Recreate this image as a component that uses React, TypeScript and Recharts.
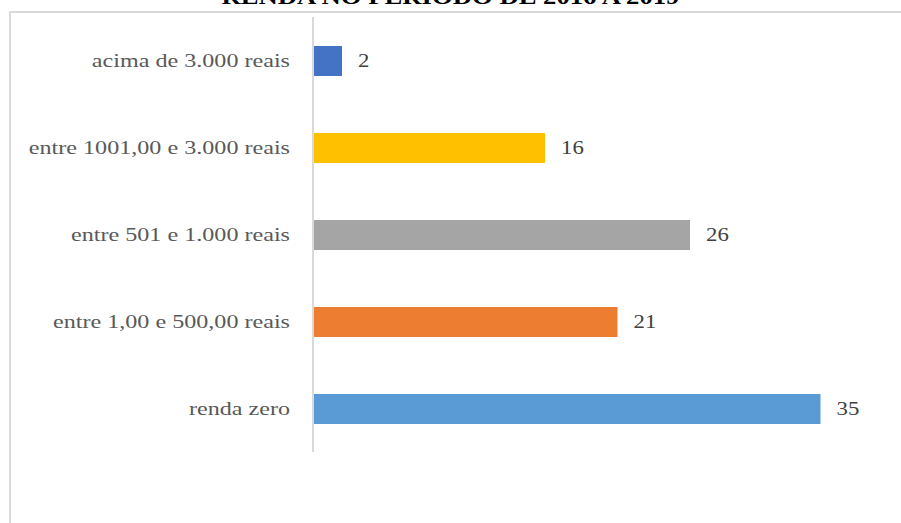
import { BarChart, Bar, XAxis, YAxis, Cell, LabelList } from 'recharts';

const categories = [
  'acima de 3.000 reais',
  'entre 1001,00 e 3.000 reais',
  'entre 501 e 1.000 reais',
  'entre 1,00 e 500,00 reais',
  'renda zero',
];
const values = [2, 16, 26, 21, 35];
const colors = ['#4472C4', '#FFC000', '#A5A5A5', '#ED7D31', '#5B9BD5'];
const title = 'RENDA NO PERÍODO DE 2016 A 2019';

const FONT = '"Liberation Serif", "Times New Roman", serif';
// the source picture is stretched sideways, so the text is too
const STRETCH = 1.27;

const data = categories.map((name, i) => ({ name, value: values[i], color: colors[i] }));

function CategoryTick(props: any) {
  const { x, y, payload } = props;
  return (
    <g transform={`translate(${x - 15},${y}) scale(${STRETCH},1)`}>
      <text
        x={0}
        y={0}
        textAnchor="end"
        dominantBaseline="central"
        fontSize={19}
        fontFamily={FONT}
        fill="#595959"
      >
        {payload.value}
      </text>
    </g>
  );
}

function ValueLabel(props: any) {
  const { x, y, width, height, value } = props;
  return (
    <g transform={`translate(${x + width + 16},${y + height / 2}) scale(1.2,1)`}>
      <text x={0} y={0} dominantBaseline="central" fontSize={19} fontFamily={FONT} fill="#404040">
        {value}
      </text>
    </g>
  );
}

export default function App() {
  return (
    <div
      style={{
        position: 'fixed',
        left: 0,
        top: 0,
        width: 901,
        height: 523,
        overflow: 'hidden',
        background: '#fff',
      }}
    >
      <div
        style={{
          position: 'absolute',
          left: 9,
          top: 11,
          width: 1000,
          height: 700,
          border: '2px solid #d9d9d9',
        }}
      />
      {/* title is cut off at the top in the source as well */}
      <div
        style={{
          position: 'absolute',
          left: 0,
          top: -13,
          width: 901,
          textAlign: 'center',
          fontFamily: FONT,
          fontWeight: 'bold',
          fontSize: 21,
          lineHeight: '21px',
          color: '#000',
          transform: `scaleX(${STRETCH})`,
        }}
      >
        {title}
      </div>
      <div style={{ position: 'absolute', left: 0, top: 0 }}>
        <BarChart
          width={901}
          height={523}
          data={data}
          layout="vertical"
          margin={{ top: 17, right: 8, left: 0, bottom: 71 }}
        >
          <XAxis type="number" domain={[0, 40]} hide />
          <YAxis
            type="category"
            dataKey="name"
            width={313}
            axisLine={{ stroke: '#d9d9d9', strokeWidth: 2 }}
            tickLine={false}
            tick={<CategoryTick />}
            interval={0}
          />
          <Bar dataKey="value" barSize={30} isAnimationActive={false}>
            {data.map((entry, index) => (
              <Cell key={`cell-${index}`} fill={entry.color} />
            ))}
            <LabelList dataKey="value" content={<ValueLabel />} />
          </Bar>
        </BarChart>
      </div>
    </div>
  );
}
